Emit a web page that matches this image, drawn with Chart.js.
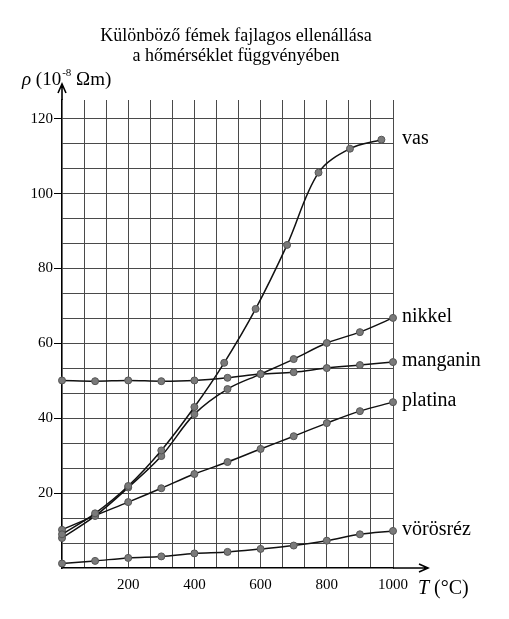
<!DOCTYPE html>
<html>
<head>
<meta charset="utf-8">
<script src="https://cdn.jsdelivr.net/npm/chart.js@4"></script>
<style>
  html, body { margin: 0; padding: 0; background: #fff; }
  canvas { display: block; }
</style>
</head>
<body>
<canvas id="chart" width="509" height="619"></canvas>
<script>
// temperatures (°C) where the points were measured
const temps = [0, 100, 200, 300, 400, 500, 600, 700, 800, 900, 1000];
// iron points sit a bit left of the round values in the drawing
const vasTemps = [0, 100, 200, 300, 400, 490, 585, 680, 775, 870, 965];

// resistivity, 10^-8 Ωm
const vas = [9, 14.6, 21.9, 31.4, 43, 54.8, 69.2, 86.3, 105.6, 112, 114.4];
const nikkel = [8, 13.9, 21.5, 29.9, 41.1, 47.8, 51.8, 55.8, 60.1, 63, 66.8];
const manganin = [50.1, 49.9, 50.1, 49.9, 50.1, 50.8, 51.8, 52.3, 53.4, 54.2, 55];
const platina = [10.2, 14, 17.6, 21.3, 25.1, 28.3, 31.8, 35.2, 38.7, 41.9, 44.3];
const vorosrez = [1.2, 1.9, 2.7, 3.1, 3.9, 4.3, 5.1, 6.0, 7.3, 9.0, 9.9];

const seriesNames = ['vas', 'nikkel', 'manganin', 'platina', 'vörösréz'];

// axis ticks: labels every 200 / 20, grid every third of that
const xLabelStep = 200;
const yLabelStep = 20;
const xGridCount = 15;
const yGridCount = 18;

const serif = "'Liberation Serif', 'DejaVu Serif', serif";

function isLabelled(v, step) {
  return v > 0 && Math.abs(v - Math.round(v / step) * step) < 1e-6;
}

function toPoints(xs, ys) {
  return ys.map((y, i) => ({ x: xs[i], y: y }));
}

const seriesData = [
  toPoints(vasTemps, vas),
  toPoints(temps, nikkel),
  toPoints(temps, manganin),
  toPoints(temps, platina),
  toPoints(temps, vorosrez)
];

const decorations = {
  id: 'decorations',
  afterDraw(chart) {
    const ctx = chart.ctx;
    const area = chart.chartArea;
    const xs = chart.scales.x;
    const ys = chart.scales.y;
    const x0 = xs.getPixelForValue(0);
    const y0 = ys.getPixelForValue(0);

    ctx.save();
    ctx.fillStyle = '#000';
    ctx.strokeStyle = '#000';

    // title
    ctx.font = '18px ' + serif;
    ctx.textAlign = 'center';
    ctx.textBaseline = 'middle';
    ctx.fillText('Különböző fémek fajlagos ellenállása', 236, 36);
    ctx.fillText('a hőmérséklet függvényében', 236, 56);

    // axis arrows
    ctx.lineWidth = 1.6;
    ctx.beginPath();
    ctx.moveTo(x0, area.top);
    ctx.lineTo(x0, 84);
    ctx.moveTo(x0 - 4, 93);
    ctx.lineTo(x0, 84);
    ctx.lineTo(x0 + 4, 93);
    ctx.moveTo(area.right, y0);
    ctx.lineTo(428, y0);
    ctx.moveTo(419, y0 - 4);
    ctx.lineTo(428, y0);
    ctx.lineTo(419, y0 + 4);
    ctx.stroke();

    // y axis title: ρ (10^-8 Ωm)
    ctx.textAlign = 'left';
    ctx.textBaseline = 'alphabetic';
    let x = 22;
    const yb = 85;
    ctx.font = 'italic 19px ' + serif;
    ctx.fillText('ρ', x, yb);
    x += ctx.measureText('ρ').width;
    ctx.font = '19px ' + serif;
    ctx.fillText(' (10', x, yb);
    x += ctx.measureText(' (10').width + 1;
    ctx.font = '11px ' + serif;
    ctx.fillText('-8', x, yb - 9);
    x += ctx.measureText('-8').width;
    ctx.font = '19px ' + serif;
    ctx.fillText(' Ωm)', x, yb);

    // x axis title: T (°C)
    x = 418;
    const xb = 594;
    ctx.font = 'italic 20px ' + serif;
    ctx.fillText('T', x, xb);
    x += ctx.measureText('T').width;
    ctx.font = '20px ' + serif;
    ctx.fillText(' (°C)', x, xb);

    // series names at the end of each curve
    ctx.font = '20px ' + serif;
    ctx.textBaseline = 'middle';
    chart.data.datasets.forEach((ds, i) => {
      const last = ds.data[ds.data.length - 1];
      ctx.fillText(seriesNames[i], 402, ys.getPixelForValue(last.y) - 1);
    });

    ctx.restore();
  }
};

new Chart(document.getElementById('chart'), {
  type: 'scatter',
  data: {
    datasets: seriesData.map((pts, i) => ({
      label: seriesNames[i],
      data: pts,
      showLine: true,
      clip: 8,
      borderColor: '#111',
      borderWidth: 1.5,
      tension: 0.35,
      pointRadius: 3.5,
      pointBackgroundColor: '#7a7a7a',
      pointBorderColor: '#555',
      pointBorderWidth: 1
    }))
  },
  options: {
    responsive: false,
    animation: false,
    devicePixelRatio: 1,
    layout: { padding: { top: 100, right: 116, bottom: 0, left: 0 } },
    plugins: {
      legend: { display: false },
      tooltip: { enabled: false }
    },
    scales: {
      x: {
        type: 'linear',
        min: 0,
        max: 1000,
        afterBuildTicks(scale) {
          scale.ticks = [];
          for (let i = 1; i <= xGridCount; i++) {
            scale.ticks.push({ value: i * 1000 / xGridCount });
          }
        },
        afterFit(scale) { scale.height = 51; },
        ticks: {
          autoSkip: false,
          maxRotation: 0,
          padding: 8,
          color: '#000',
          font: { family: serif, size: 15 },
          callback: (v) => isLabelled(v, xLabelStep) ? String(Math.round(v)) : ''
        },
        grid: { color: '#4a4a4a', lineWidth: 1, drawTicks: false },
        border: { display: true, color: '#000', width: 1.6 }
      },
      y: {
        type: 'linear',
        min: 0,
        max: 125,
        afterBuildTicks(scale) {
          scale.ticks = [];
          for (let i = 1; i <= yGridCount; i++) {
            scale.ticks.push({ value: i * 120 / yGridCount });
          }
        },
        afterFit(scale) { scale.width = 62; },
        ticks: {
          autoSkip: false,
          padding: 1,
          color: '#000',
          font: { family: serif, size: 15 },
          callback: (v) => isLabelled(v, yLabelStep) ? String(Math.round(v)) : ''
        },
        grid: {
          color: '#4a4a4a',
          lineWidth: 1,
          tickLength: 8,
          tickColor: (c) => (c.tick && isLabelled(c.tick.value, yLabelStep)) ? '#000' : 'rgba(0,0,0,0)'
        },
        border: { display: true, color: '#000', width: 1.6 }
      }
    }
  },
  plugins: [decorations]
});
</script>
</body>
</html>
